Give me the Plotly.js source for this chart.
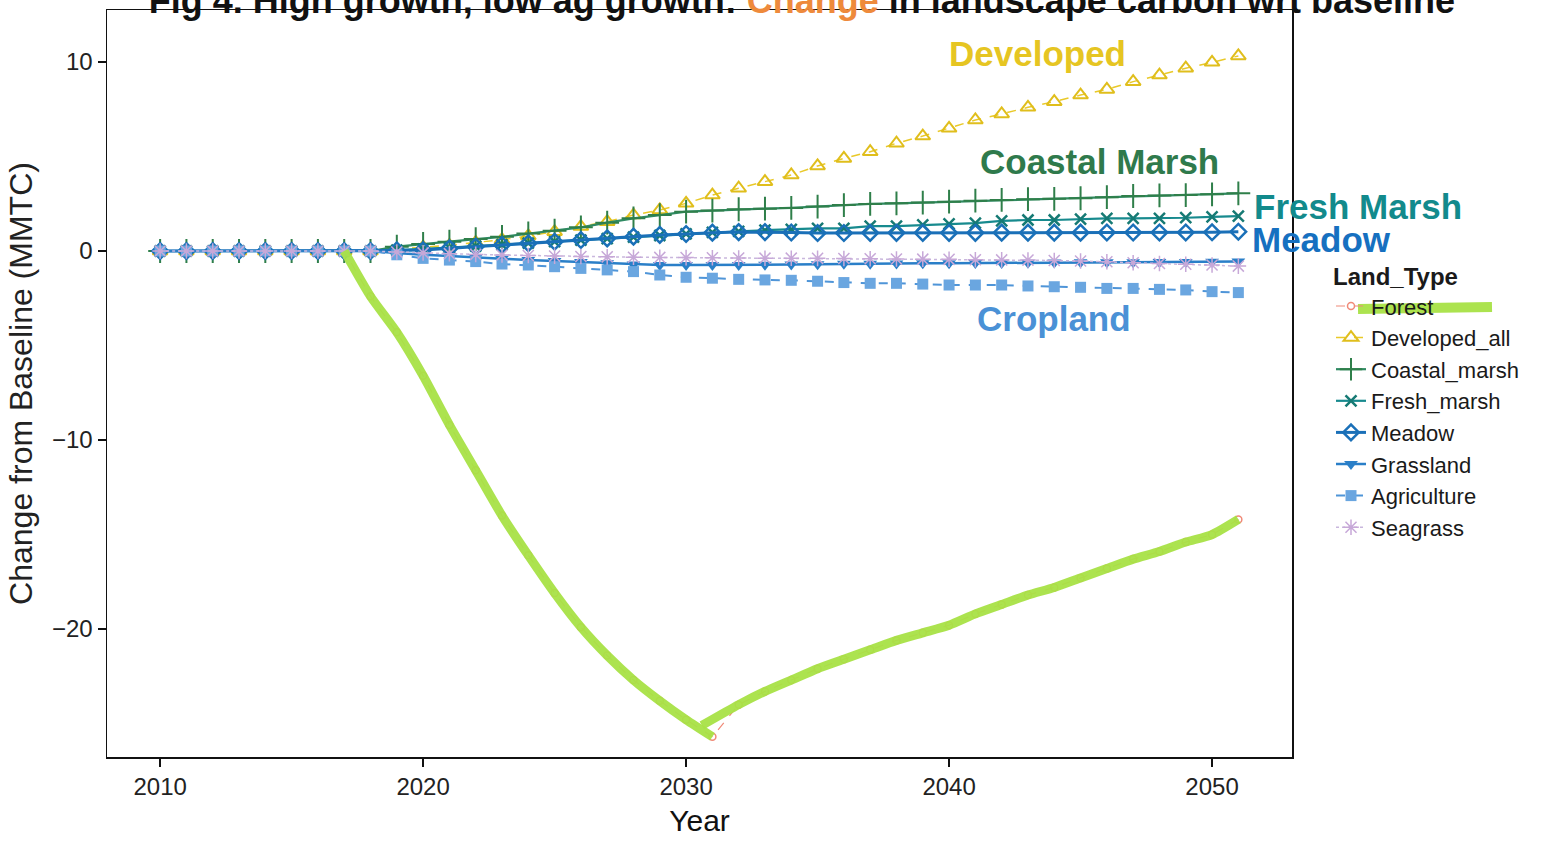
<!DOCTYPE html>
<html>
<head>
<meta charset="utf-8">
<script src="https://cdn.plot.ly/plotly-3.0.1.min.js"></script>
<style>
  html, body { margin: 0; padding: 0; background: #ffffff; }
  #chart { width: 1549px; height: 843px; }
</style>
</head>
<body>
<div id="chart"></div>
<script>
// ---------------- data ----------------
const years = [2010,2011,2012,2013,2014,2015,2016,2017,2018,2019,2020,2021,2022,2023,2024,2025,2026,2027,2028,2029,2030,
               2031,2032,2033,2034,2035,2036,2037,2038,2039,2040,2041,2042,2043,2044,2045,2046,2047,2048,2049,2050,2051];

const forest = [0,0,0,0,0,0,0,0,
  -2.4,-4.3,-6.6,-9.2,-11.6,-14.0,-16.1,-18.1,-19.9,-21.4,-22.7,-23.8,-24.8,-25.7,
  -24.0,-23.3,-22.7,-22.1,-21.6,-21.1,-20.6,-20.2,-19.8,-19.2,-18.7,-18.2,-17.8,-17.3,-16.8,-16.3,-15.9,-15.4,-15.0,-14.2];

const developedAll = [0,0,0,0,0,0,0,0,0,
  0.1,0.2,0.3,0.45,0.6,0.8,1.02,1.29,1.55,1.9,2.17,2.52,2.96,3.32,3.67,4.02,4.5,4.9,5.25,5.7,6.08,6.49,
  6.93,7.25,7.6,7.9,8.25,8.55,8.96,9.31,9.67,9.98,10.32];

const coastalMarsh = [0,0,0,0,0,0,0,0,0,
  0.23,0.37,0.49,0.63,0.75,0.93,1.07,1.25,1.5,1.73,1.9,2.08,2.14,2.21,2.24,2.28,2.35,2.43,2.49,2.52,2.56,2.61,
  2.66,2.7,2.74,2.76,2.79,2.85,2.91,2.94,2.96,3.0,3.05];

const freshMarsh = [0,0,0,0,0,0,0,0,0,
  0.05,0.1,0.18,0.26,0.34,0.42,0.5,0.58,0.66,0.74,0.82,0.9,0.98,1.04,1.1,1.15,1.2,1.2,1.32,1.32,1.38,1.43,
  1.47,1.59,1.64,1.64,1.68,1.73,1.73,1.73,1.76,1.81,1.85];

const meadow = [0,0,0,0,0,0,0,0,0,
  0.03,0.05,0.14,0.23,0.32,0.41,0.49,0.58,0.67,0.76,0.85,0.9,0.97,1.0,1.0,0.98,0.95,0.95,0.96,0.96,0.96,0.96,
  0.96,0.97,0.97,0.97,0.97,0.98,0.98,0.98,0.98,0.99,1.02];

const grassland = [0,0,0,0,0,0,0,0,0,
  -0.1,-0.2,-0.26,-0.35,-0.41,-0.48,-0.53,-0.58,-0.65,-0.72,-0.74,-0.74,-0.74,-0.74,-0.73,-0.72,-0.7,-0.68,-0.67,-0.66,-0.65,-0.65,
  -0.64,-0.63,-0.62,-0.61,-0.6,-0.6,-0.59,-0.58,-0.58,-0.57,-0.56];

const agriculture = [0,0,0,0,0,0,0,0,0,
  -0.2,-0.39,-0.48,-0.56,-0.69,-0.74,-0.83,-0.92,-1.0,-1.09,-1.27,-1.39,-1.44,-1.5,-1.53,-1.55,-1.6,-1.67,-1.71,-1.71,-1.75,-1.8,
  -1.8,-1.8,-1.85,-1.89,-1.92,-1.98,-1.98,-2.03,-2.06,-2.15,-2.2];

const seagrass = [0,0,0,0,0,0,0,0,0,
  -0.05,-0.1,-0.14,-0.18,-0.21,-0.24,-0.27,-0.29,-0.31,-0.33,-0.34,-0.35,-0.36,-0.37,-0.38,-0.38,-0.39,-0.4,-0.41,-0.42,-0.43,-0.44,
  -0.46,-0.47,-0.48,-0.5,-0.53,-0.57,-0.62,-0.66,-0.7,-0.74,-0.8];

// hand-drawn highlighter over the Forest series: it breaks at 2031 and restarts here
const highlightRestart = [2030.6, -25.1];

const xTicks = [2010, 2020, 2030, 2040, 2050];
const yTicks = [-20, -10, 0, 10];

const seriesNames = ["Forest","Developed_all","Coastal_marsh","Fresh_marsh","Meadow","Grassland","Agriculture","Seagrass"];
const seriesValues = [forest, developedAll, coastalMarsh, freshMarsh, meadow, grassland, agriculture, seagrass];

// ---------------- styles ----------------
const styles = [
  {color:"#f08a78", dash:"dash",  width:1.2, symbol:"circle-open",        size:7,  mlw:1.5, mcolor:"#f08a78"},
  {color:"#e9c929", dash:"dash",  width:1.5, symbol:"triangle-up-open",   size:13, mlw:2,   mcolor:"#e0be1c"},
  {color:"#2f8a62", dash:"solid", width:2.2, symbol:"cross-thin-open",    size:17, mlw:2,   mcolor:"#2f7f4a"},
  {color:"#178a8e", dash:"solid", width:2.2, symbol:"x-thin-open",        size:11, mlw:2.5, mcolor:"#167a74"},
  {color:"#1a70b8", dash:"solid", width:3,   symbol:"diamond-open",       size:12, mlw:2.5, mcolor:"#1a70b8"},
  {color:"#2a7fc8", dash:"solid", width:2.5, symbol:"triangle-down",      size:12, mlw:0,   mcolor:"#2a7fc8"},
  {color:"#4f95d8", dash:"dash",  width:2,   symbol:"square",             size:11, mlw:0,   mcolor:"#6aa6e0"},
  {color:"#c9b7dd", dash:"dot",   width:1.5, symbol:"asterisk-open",      size:13, mlw:1.5, mcolor:"#c7a8d8"}
];

const FONT = "Liberation Sans, Arial, Helvetica, sans-serif";

const traces = seriesNames.map((name, i) => ({
  type: "scatter",
  mode: "lines+markers",
  name: name,
  x: years,
  y: seriesValues[i],
  line: {color: styles[i].color, width: styles[i].width, dash: styles[i].dash},
  marker: {symbol: styles[i].symbol, size: styles[i].size, color: styles[i].mcolor,
           line: {color: styles[i].mcolor, width: styles[i].mlw}}
}));

// highlighter strokes built from the forest series
const iStart = years.indexOf(2017);
const iBreak = years.indexOf(2031);
const iAfter = years.indexOf(2032);
const hlStyle = {color: "rgba(168,226,70,0.95)", width: 9, shape: "spline", smoothing: 0.6};
traces.push({
  type: "scatter", mode: "lines", showlegend: false, hoverinfo: "skip",
  x: years.slice(iStart, iBreak + 1), y: forest.slice(iStart, iBreak + 1),
  line: hlStyle
});
traces.push({
  type: "scatter", mode: "lines", showlegend: false, hoverinfo: "skip",
  x: [highlightRestart[0]].concat(years.slice(iAfter)),
  y: [highlightRestart[1]].concat(forest.slice(iAfter)),
  line: hlStyle
});

// ---------------- layout ----------------
const W = 1549, H = 843;
const L = 107, R = 1292, T = 10, B = 757;
const px = (x) => (x - L) / (R - L);
const py = (y) => (B - y) / (B - T);

const labelFont = (c) => ({family: FONT, size: 35, color: c});

const layout = {
  width: W, height: H,
  margin: {l: L, r: W - R, t: T, b: H - B, pad: 0},
  paper_bgcolor: "#ffffff",
  plot_bgcolor: "#ffffff",
  showlegend: true,
  title: {
    text: "<b>Fig 4. High growth, low ag growth: <span style=\"color:#ee8a3c\">Change</span> in landscape carbon wrt baseline</b>",
    font: {family: FONT, size: 36, color: "#111111"},
    xref: "container", x: 1455 / W, xanchor: "right",
    yref: "container", y: 1.0, yanchor: "middle"
  },
  xaxis: {
    range: [2007.98, 2053.04],
    tickmode: "array", tickvals: xTicks, ticktext: xTicks.map(String),
    showgrid: false, zeroline: false,
    showline: true, mirror: true, linecolor: "#111111", linewidth: 1.5,
    ticks: "outside", ticklen: 8, tickwidth: 1.5, tickcolor: "#111111",
    tickfont: {family: FONT, size: 24, color: "#222222"},
    title: {text: "Year", font: {family: FONT, size: 30, color: "#111111"}, standoff: 10}
  },
  yaxis: {
    range: [-26.77, 12.75],
    tickmode: "array", tickvals: yTicks, ticktext: yTicks.map(v => v < 0 ? "\u2212" + Math.abs(v) : String(v)),
    showgrid: false, zeroline: false,
    showline: true, mirror: true, linecolor: "#111111", linewidth: 1.5,
    ticks: "outside", ticklen: 8, tickwidth: 1.5, tickcolor: "#111111",
    tickfont: {family: FONT, size: 24, color: "#222222"},
    title: {text: "Change from Baseline (MMTC)", font: {family: FONT, size: 32, color: "#222222"}, standoff: 10}
  },
  legend: {
    x: px(1331), xanchor: "left",
    y: py(254), yanchor: "top",
    bgcolor: "rgba(0,0,0,0)",
    borderwidth: 0,
    font: {family: FONT, size: 22, color: "#1a1a1a"},
    title: {text: "<b>Land_Type</b>", font: {family: FONT, size: 24, color: "#1a1a1a"}},
    tracegroupgap: 0,
    itemwidth: 30
  },
  annotations: [
    {text: "<b>Developed</b>",     x: px(1037), y: py(54),  font: labelFont("#e6c522")},
    {text: "<b>Coastal Marsh</b>", x: px(1099), y: py(162), font: labelFont("#2f7a4c")},
    {text: "<b>Fresh Marsh</b>",   x: px(1358), y: py(206), font: labelFont("#128a8c")},
    {text: "<b>Meadow</b>",        x: px(1321), y: py(239), font: labelFont("#1670c0")},
    {text: "<b>Cropland</b>",      x: px(1054), y: py(318), font: labelFont("#4a91d6")}
  ].map(a => Object.assign({xref: "paper", yref: "paper", showarrow: false, xanchor: "center", yanchor: "middle"}, a)),
  shapes: [
    {type: "line", xref: "paper", yref: "paper", x0: px(1358), x1: px(1492), y0: py(309), y1: py(307),
     line: {color: "rgba(168,226,70,0.95)", width: 10}, layer: "above"}
  ]
};

Plotly.newPlot("chart", traces, layout, {displayModeBar: false, staticPlot: true});
</script>
</body>
</html>
